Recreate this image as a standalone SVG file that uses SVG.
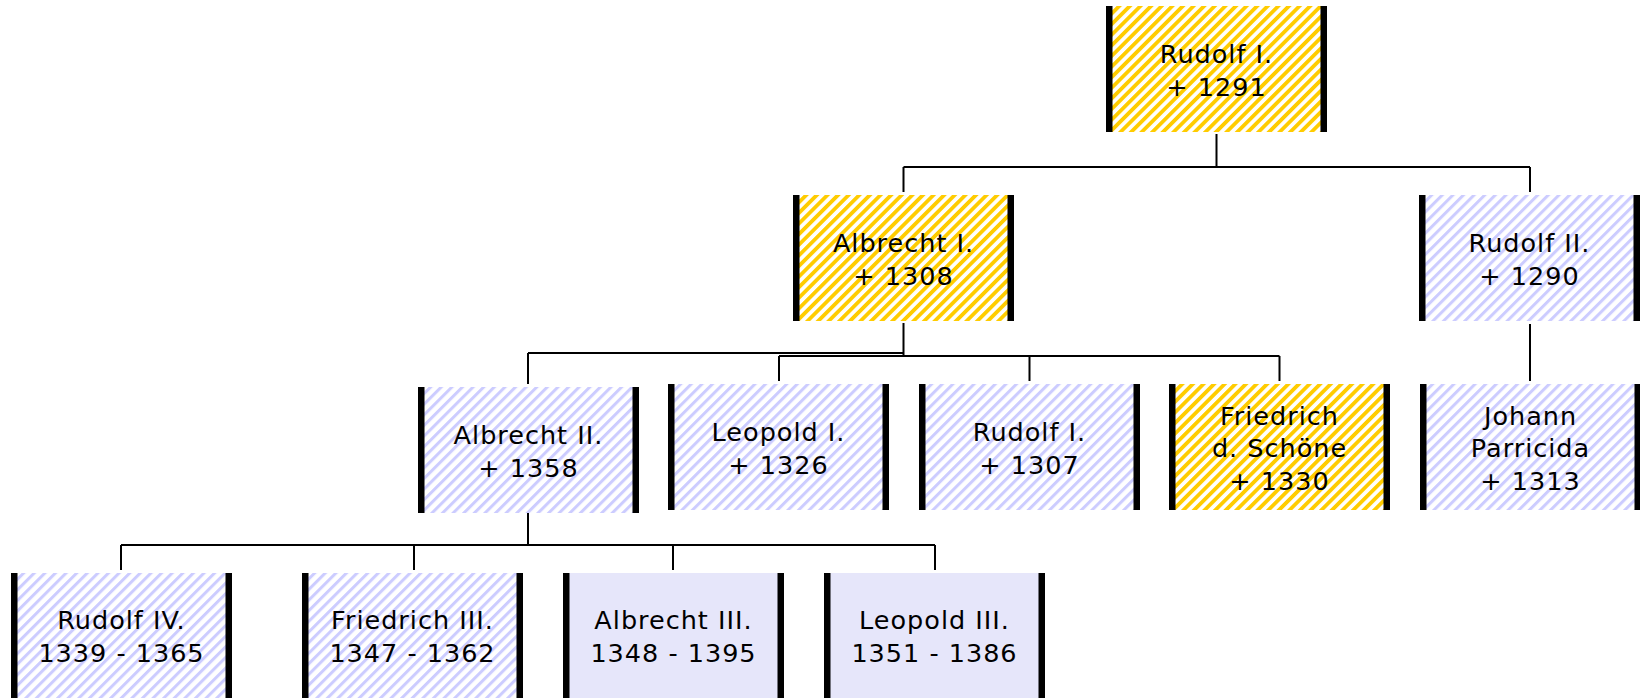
<svg xmlns="http://www.w3.org/2000/svg" width="1640" height="698" viewBox="0 0 1640 698">
<defs>
<pattern id="hy" patternUnits="userSpaceOnUse" width="7.5" height="7.5" patternTransform="rotate(45)">
<rect width="7.5" height="7.5" fill="#fff"/><rect width="3.8" height="7.5" fill="#FFCC00"/>
</pattern>
<pattern id="hl" patternUnits="userSpaceOnUse" width="7.5" height="7.5" patternTransform="rotate(45)">
<rect width="7.5" height="7.5" fill="#fff"/><rect width="3" height="7.5" fill="#CCCCFF"/>
</pattern>
<g id="bars"><rect x="0" y="0" width="6.5" height="126" fill="#000"/><rect x="214.5" y="0" width="6.5" height="126" fill="#000"/></g>
</defs>
<style>
.y{fill:url(#hy)}
.l{fill:url(#hl)}
.s{fill:#E6E6FA}
text{font-family:"DejaVu Sans",Verdana,sans-serif;font-size:25.5px;fill:#000;text-anchor:middle;letter-spacing:1px}
.c{fill:none;stroke:#000;stroke-width:2}
</style>
<rect width="1640" height="698" fill="#fff"/>
<g id="connectors" class="c">
<path d="M1216.5,134V167M903.5,167H1530M903.5,167V192M1530,167V192"/>
<path d="M903.5,323V356M528,353H903.5M528,353V384M779,356H1279.5M779,356V381M1029.5,356V381M1279.5,356V381"/>
<path d="M1530,324V381"/>
<path d="M528,512V545M121,545H935M121,545V570M414,545V570M673,545V570M935,545V570"/>
</g>
<g id="n1" transform="translate(1106,6)"><rect class="y" width="221" height="126"/><use href="#bars"/><text x="110.5" y="57">Rudolf I.</text><text x="110.5" y="89.5">+ 1291</text></g>
<g id="n2" transform="translate(793,195)"><rect class="y" width="221" height="126"/><use href="#bars"/><text x="110.5" y="57">Albrecht I.</text><text x="110.5" y="89.5">+ 1308</text></g>
<g id="n3" transform="translate(1419,195)"><rect class="l" width="221" height="126"/><use href="#bars"/><text x="110.5" y="57">Rudolf II.</text><text x="110.5" y="89.5">+ 1290</text></g>
<g id="n4" transform="translate(418,387)"><rect class="l" width="221" height="126"/><use href="#bars"/><text x="110.5" y="57">Albrecht II.</text><text x="110.5" y="89.5">+ 1358</text></g>
<g id="n5" transform="translate(668,384)"><rect class="l" width="221" height="126"/><use href="#bars"/><text x="110.5" y="57">Leopold I.</text><text x="110.5" y="89.5">+ 1326</text></g>
<g id="n6" transform="translate(919,384)"><rect class="l" width="221" height="126"/><use href="#bars"/><text x="110.5" y="57">Rudolf I.</text><text x="110.5" y="89.5">+ 1307</text></g>
<g id="n7" transform="translate(1169,384)"><rect class="y" width="221" height="126"/><use href="#bars"/><text x="110.5" y="40.5">Friedrich</text><text x="110.5" y="73">d. Schöne</text><text x="110.5" y="105.5">+ 1330</text></g>
<g id="n8" transform="translate(1420,384)"><rect class="l" width="221" height="126"/><use href="#bars"/><text x="110.5" y="40.5">Johann</text><text x="110.5" y="73">Parricida</text><text x="110.5" y="105.5">+ 1313</text></g>
<g id="n9" transform="translate(11,573)"><rect class="l" width="221" height="126"/><use href="#bars"/><text x="110.5" y="56">Rudolf IV.</text><text x="110.5" y="88.5">1339 - 1365</text></g>
<g id="n10" transform="translate(302,573)"><rect class="l" width="221" height="126"/><use href="#bars"/><text x="110.5" y="56">Friedrich III.</text><text x="110.5" y="88.5">1347 - 1362</text></g>
<g id="n11" transform="translate(563,573)"><rect class="s" width="221" height="126"/><use href="#bars"/><text x="110.5" y="56">Albrecht III.</text><text x="110.5" y="88.5">1348 - 1395</text></g>
<g id="n12" transform="translate(824,573)"><rect class="s" width="221" height="126"/><use href="#bars"/><text x="110.5" y="56">Leopold III.</text><text x="110.5" y="88.5">1351 - 1386</text></g>
</svg>
